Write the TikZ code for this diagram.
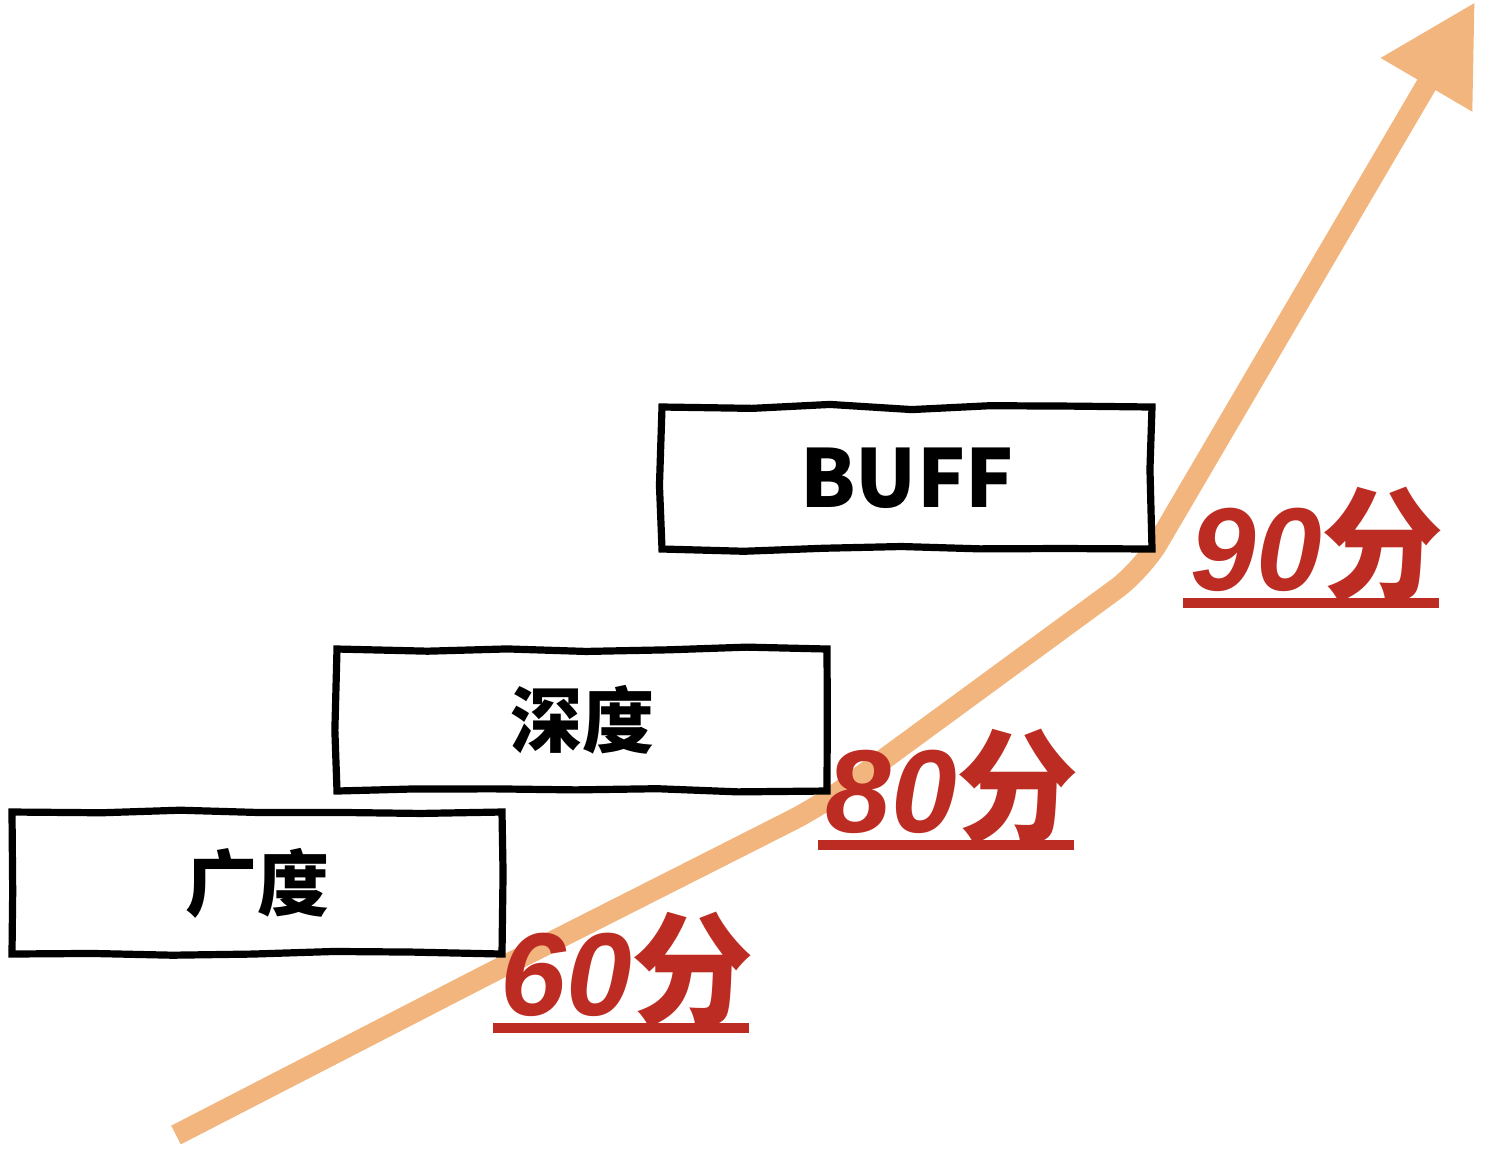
\documentclass[tikz,border=0pt]{standalone}
\usepackage{fontspec}
\newfontfamily\cjk{Noto Sans CJK SC}
\newfontfamily\scorefont{Liberation Sans}
\usetikzlibrary{arrows.meta, decorations.pathmorphing}
\definecolor{curveorange}{RGB}{242,181,125}
\definecolor{scorered}{RGB}{188,44,34}

\begin{document}
\begin{tikzpicture}[
            x = 0.5pt, y = -0.5pt, % pixel grid, y pointing down
            > = {Triangle[length=48pt, width=50pt]}, % big arrow head
            semithick
        ]

        \tikzstyle{level}=[
            draw = black,
            line width = 3.6pt,
            fill = white,
            minimum width = 245pt,
            minimum height = 71pt,
            decorate,
            decoration = {random steps, segment length = 40pt, amplitude = 1.3pt},
            font = \cjk\bfseries\fontsize{36}{40}\selectfont
        ]
        \tikzstyle{score}=[
            text = scorered,
            inner sep = 0pt,
            anchor = base west,
            font = \scorefont\bfseries\itshape\fontsize{59}{60}\selectfont
        ]
        \tikzstyle{scoreline}=[draw = scorered, line width = 5pt]

        \useasboundingbox (0,0) rectangle (1486,1148);
        \pgfmathsetseed{7}

        % growth curve
        \coordinate (c0) at (176,1135);
        \coordinate (c1) at (500,968);
        \coordinate (c2) at (820,806);
        \coordinate (c3) at (1142,570);
        \coordinate (tip) at (1475,2);
        \draw[->, curveorange, line width = 10.5pt, rounded corners = 16pt]
            (c0) -- (c1) -- (c2) -- (c3) -- (tip);

        % levels
        \node[level] (guangdu) at (257,883) {广度};
        \node[level] (shendu) at (582,720) {深度};
        \node[level, font = \cjk\bfseries\fontsize{40}{44}\selectfont] (buff) at (907,478) {BUFF};

        % scores
        \node[score] (s60) at (500,1015) {60{\cjk\upshape\fontsize{61}{62}\selectfont 分}};
        \node[score] (s80) at (825,832) {80{\cjk\upshape\fontsize{61}{62}\selectfont 分}};
        \node[score] (s90) at (1190,590) {90{\cjk\upshape\fontsize{61}{62}\selectfont 分}};
        \draw[scoreline] ([shift={(-7,13)}]s60.base west) -- ++(256,0);
        \draw[scoreline] ([shift={(-7,13)}]s80.base west) -- ++(256,0);
        \draw[scoreline] ([shift={(-7,13)}]s90.base west) -- ++(256,0);

    \end{tikzpicture}
\end{document}
